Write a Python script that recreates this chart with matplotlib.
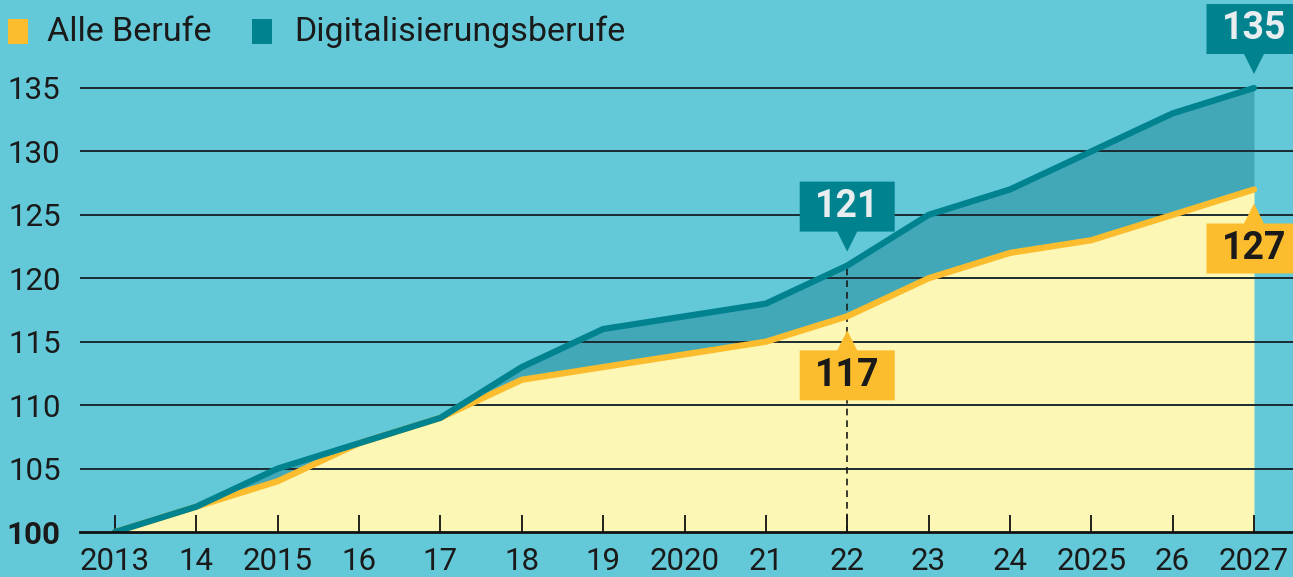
import matplotlib
matplotlib.use("Agg")
import matplotlib.pyplot as plt
import matplotlib.transforms as mtransforms
from matplotlib.patches import Polygon, Rectangle

years = list(range(2013, 2028))
year_labels = ['2013', '14', '2015', '16', '17', '18', '19', '2020',
               '21', '22', '23', '24', '2025', '26', '2027']
alle = [100, 102, 104, 107, 109, 112, 113, 114, 115, 117, 120, 122, 123, 125, 127]
digital = [100, 102, 105, 107, 109, 113, 116, 117, 118, 121, 125, 127, 130, 133, 135]
y_ticks = [100, 105, 110, 115, 120, 125, 130, 135]

BG = '#63c9d8'
YELLOW = '#fbbd2e'
LIGHT_YELLOW = '#fdf7b5'
TEAL = '#00838f'
MID_TEAL = '#42a8b8'

plt.rcParams['font.family'] = ['Roboto', 'DejaVu Sans']

fig = plt.figure(figsize=(12.93, 5.77), dpi=100, facecolor=BG)
ax = fig.add_axes([80 / 1293, 45 / 577, 1213 / 1293, 532 / 577])
ax.set_facecolor(BG)

x0, x1 = years[0], years[-1]
ax.set_xlim(x0 - 35 / 81.36, x1 + 39 / 81.36)
ax.set_ylim(100, 135 + 88 / 12.686)

ax.fill_between(years, 100, alle, color=LIGHT_YELLOW, lw=0, zorder=1)
ax.fill_between(years, alle, digital, color=MID_TEAL, lw=0, zorder=1)

for v in y_ticks[1:]:
    ax.axhline(v, color='#1b2b30', lw=1.4, zorder=2)

ax.plot(years, alle, color=YELLOW, lw=4.5, solid_capstyle='round', zorder=4)
ax.plot(years, digital, color=TEAL, lw=4.5, solid_capstyle='round', zorder=5)

# gestrichelte Linie bei 2022
i22 = years.index(2022)
ax.plot([years[i22], years[i22]], [100, digital[i22]], color='#1b1b1b',
        lw=1.2, ls=(0, (4, 3)), zorder=3)

for s in ['top', 'right', 'left']:
    ax.spines[s].set_visible(False)
ax.spines['bottom'].set_linewidth(2)
ax.spines['bottom'].set_color('#111111')
ax.spines['bottom'].set_zorder(6)

ax.set_xticks(years)
ax.set_xticklabels(year_labels)
ax.tick_params(axis='x', direction='in', length=12, width=1.3, color='#111111',
               pad=11, labelsize=22.5, labelcolor='#1a1a1a')
ax.set_yticks(y_ticks)
ax.set_yticklabels([str(v) for v in y_ticks])
ax.tick_params(axis='y', length=0, pad=14, labelsize=22.5, labelcolor='#1a1a1a')
ax.get_yticklabels()[0].set_fontweight('bold')


def callout(x, y, text, face, tc, up):
    # Kasten mit Spitze, Maße in Pixeln relativ zum Datenpunkt
    tr = fig.dpi_scale_trans + mtransforms.ScaledTranslation(x, y, ax.transData)
    s = 1 if up else -1
    w, tip, near, far = 47.5, 14, 34, 84
    pts = [(0, s * tip), (-10, s * near), (-w, s * near), (-w, s * far),
           (w, s * far), (w, s * near), (10, s * near)]
    pts = [(px / 100, py / 100) for px, py in pts]
    ax.add_patch(Polygon(pts, closed=True, transform=tr, facecolor=face,
                         edgecolor='none', zorder=7, clip_on=False))
    ax.text(0, s * (near + far) / 200, text, transform=tr, ha='center',
            va='center', fontsize=27, fontweight='bold', color=tc, zorder=8)


callout(years[-1], digital[-1], str(digital[-1]), TEAL, '#e8eef0', True)
callout(years[i22], digital[i22], str(digital[i22]), TEAL, '#e8eef0', True)
callout(years[i22], alle[i22], str(alle[i22]), YELLOW, '#1a1a1a', False)
callout(years[-1], alle[-1], str(alle[-1]), YELLOW, '#1a1a1a', False)

# Legende
fig.add_artist(Rectangle((8 / 1293, 1 - 44 / 577), 20 / 1293, 25 / 577,
                         transform=fig.transFigure, facecolor=YELLOW, lw=0))
fig.text(47 / 1293, 1 - 32 / 577, 'Alle Berufe', fontsize=24.5, va='center',
         color='#1a1a1a')
fig.add_artist(Rectangle((252 / 1293, 1 - 44 / 577), 20 / 1293, 25 / 577,
                         transform=fig.transFigure, facecolor=TEAL, lw=0))
fig.text(294 / 1293, 1 - 32 / 577, 'Digitalisierungsberufe', fontsize=24.5,
         va='center', color='#1a1a1a')

fig.savefig('out.png', dpi=100, facecolor=BG)
